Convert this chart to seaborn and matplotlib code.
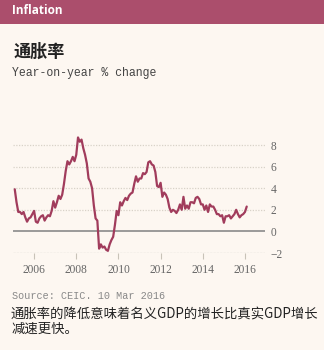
import numpy as np
import pandas as pd
import matplotlib
matplotlib.use("Agg")
import matplotlib.pyplot as plt
import seaborn as sns

# ---- data (China CPI, year-on-year % change, monthly, from Feb 2005) ----
start_year = 2005
start_month = 2
cpi = [
    3.9, 2.7, 1.8, 1.8, 1.6, 1.8, 1.3, 0.9, 1.2, 1.3, 1.6,            # 2005 Feb-Dec
    1.9, 0.9, 0.8, 1.2, 1.4, 1.5, 1.0, 1.3, 1.5, 1.4, 1.9, 2.8,       # 2006
    2.2, 2.7, 3.3, 3.0, 3.4, 4.4, 5.6, 6.5, 6.2, 6.5, 6.9, 6.5,       # 2007
    7.1, 8.7, 8.3, 8.5, 7.7, 7.1, 6.3, 4.9, 4.6, 4.0, 2.4, 1.2,       # 2008
    1.0, -1.6, -1.2, -1.5, -1.4, -1.7, -1.8, -1.2, -0.8, -0.5, 0.6, 1.9,  # 2009
    1.5, 2.7, 2.4, 2.8, 3.1, 2.9, 3.3, 3.5, 3.6, 4.4, 5.1, 4.6,       # 2010
    4.9, 4.9, 5.4, 5.3, 5.5, 6.4, 6.5, 6.2, 6.1, 5.5, 4.2, 4.1,       # 2011
    4.5, 3.2, 3.6, 3.4, 3.0, 2.2, 1.8, 2.0, 1.9, 1.7, 2.0, 2.5,       # 2012
    2.0, 3.2, 2.1, 2.4, 2.1, 2.7, 2.7, 2.6, 3.1, 3.2, 3.0, 2.5,       # 2013
    2.5, 2.0, 2.4, 1.8, 2.5, 2.3, 2.3, 2.0, 1.6, 1.6, 1.4, 1.5,       # 2014
    0.8, 1.4, 1.4, 1.5, 1.2, 1.4, 1.6, 2.0, 1.6, 1.3, 1.5, 1.6,       # 2015
    1.8, 2.3,                                                         # 2016
]
year_ticks = [2006, 2008, 2010, 2012, 2014, 2016]
y_ticks = [-2, 0, 2, 4, 6, 8]

header = "Inflation"
title = "通胀率"
subtitle = "Year-on-year % change"
source = "Source: CEIC. 10 Mar 2016"
caption = "通胀率的降低意味着名义GDP的增长比真实GDP增长\n减速更快。"

dates = [start_year + (start_month - 1 + i) / 12 for i in range(len(cpi))]
df = pd.DataFrame({"date": dates, "cpi": cpi})

# ---- style ----
bg = "#fdf7f1"
line_c = "#a13c5c"
head_c = "#ab4e6c"
grey = "#666666"

sns.set_theme(style="white")
plt.rcParams["font.family"] = ["Noto Sans CJK SC", "DejaVu Sans"]

fig = plt.figure(figsize=(3.24, 3.5), dpi=100, facecolor=bg)
W, H = 324, 350

# header bar
fig.patches.append(plt.Rectangle((0, 1 - 24 / H), 1, 24 / H, transform=fig.transFigure,
                                 facecolor=head_c, edgecolor="none", zorder=0))
fig.text(12 / W, 1 - 11 / H, header, color="white", fontsize=8.5, fontweight="bold",
         family=["Open Sans", "DejaVu Sans"], va="center", ha="left")
fig.text(14 / W, 1 - 52 / H, title, color="#222222", fontsize=12.3, fontweight="bold",
         family=["Noto Sans CJK SC"], va="center", ha="left")
fig.text(12 / W, 1 - 73 / H, subtitle, color="#444444", fontsize=8.3,
         family=["Liberation Mono"], va="center", ha="left")
fig.text(12 / W, 1 - 296 / H, source, color="#888888", fontsize=7.3,
         family=["Liberation Mono"], va="center", ha="left")
fig.text(11 / W, 1 - 321 / H, caption, color="#222222", fontsize=9.6,
         family=["Noto Sans CJK SC"], va="center", ha="left", linespacing=1.1)

# axes: x 2005.0..2016.95 -> px 13..265 ; y -2..9 -> px 253..134
ax_left, ax_right = 13, 265
ax_bottom, ax_top = 253, 134.2
ax = fig.add_axes([ax_left / W, 1 - ax_bottom / H, (ax_right - ax_left) / W,
                   (ax_bottom - ax_top) / H])
ax.set_facecolor("none")

sns.lineplot(data=df, x="date", y="cpi", ax=ax, color=line_c, linewidth=1.6, zorder=5)

ax.set_xlim(2005.0, 2016.95)
ax.set_ylim(-2, 9)

for v in y_ticks:
    if v == 0:
        ax.axhline(v, color="#8a8a8a", lw=1.2, zorder=3)
    elif v == -2:
        ax.axhline(v, color="#7a7a7a", lw=0.8, ls=(0, (2, 1)), zorder=3)
    else:
        ax.axhline(v, color="#d8d2c8", lw=0.9, ls=(0, (1, 1.2)), zorder=2)

for s in ax.spines.values():
    s.set_visible(False)

ax.set_xticks(year_ticks)
ax.set_xticklabels([str(y) for y in year_ticks], fontsize=8.3, color=grey,
                   family=["Liberation Serif"])
ax.tick_params(axis="x", length=4, width=0.8, color="#c8c2b8", pad=4, direction="out",
               bottom=True)
ax.yaxis.tick_right()
ax.set_yticks(y_ticks)
ax.set_yticklabels([("\u22122" if v < 0 else str(v)) for v in y_ticks], fontsize=8.3,
                   color=grey, family=["Liberation Serif", "DejaVu Sans"])
ax.tick_params(axis="y", length=0, pad=4)
ax.set_xlabel("")
ax.set_ylabel("")
ax.grid(False)

fig.savefig("out.png", dpi=100, facecolor=bg)
